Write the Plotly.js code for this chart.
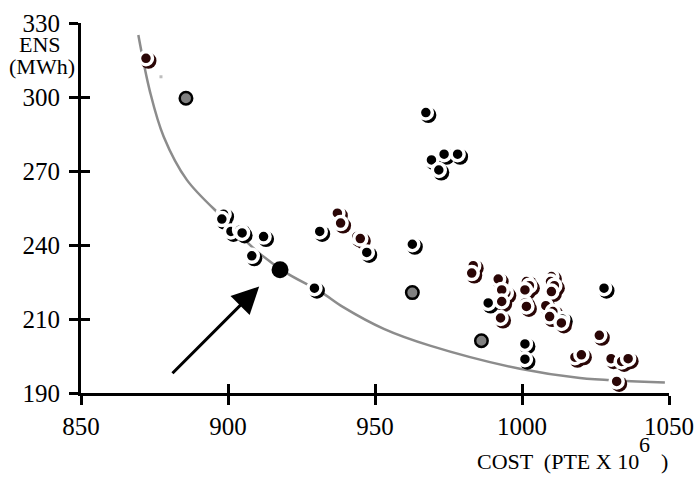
<!DOCTYPE html>
<html>
<head>
<meta charset="utf-8">
<script src="https://cdn.plot.ly/plotly-3.0.1.min.js"></script>
<style>
html,body{margin:0;padding:0;background:#fff;}
#chart{width:700px;height:482px;}
#chart svg text{font-family:"Liberation Serif","Times New Roman","DejaVu Serif",serif !important;}
</style>
</head>
<body>
<div id="chart"></div>
<script>
// ---- data ----
const blackX = [967.3, 969.2, 973.5, 978.1, 971.7, 931.2, 912.1, 962.7, 947.2, 898.5, 897.9, 901.0, 904.1, 904.8, 908.1, 929.4, 988.5, 1013.7, 1027.9, 1001.0, 1001.0];
const blackY = [293.7, 274.5, 276.8, 276.8, 270.4, 245.5, 243.4, 240.3, 237.0, 252.5, 250.5, 245.5, 246.1, 244.9, 235.6, 222.5, 216.5, 210.0, 222.5, 199.9, 193.7];

const brownX = [872.1, 937.2, 938.3, 943.8, 945.0, 983.4, 982.9, 991.9, 994.5, 993.1, 993.1, 992.7, 1001.5, 1002.5, 1001.0, 1001.0, 1001.5, 1010.0, 1009.7, 1011.0, 1010.0, 1008.1, 1010.5, 1009.4, 1013.4, 1026.3, 1018.0, 1020.2, 1030.3, 1033.9, 1036.1, 1032.2];
const brownY = [315.7, 252.9, 248.9, 243.4, 242.6, 231.6, 228.6, 226.2, 220.5, 221.8, 217.1, 210.4, 225.2, 223.5, 221.8, 216.5, 215.1, 227.2, 225.2, 223.5, 221.1, 215.4, 213.0, 211.0, 208.4, 203.4, 194.5, 195.5, 193.9, 192.8, 193.9, 184.7];

const grayX = [885.7, 962.7, 986.2];
const grayY = [299.5, 220.7, 201.2];

const bigX = [917.7];
const bigY = [230.0];

const specX = [877.2];
const specY = [308.2];

const curveX = [869.5, 873.5, 878.1, 886.0, 899.0, 909.8, 920.0, 931.3, 939.2, 953.0, 968.7, 999.3, 1019.7, 1048.6];
const curveY = [325.1, 302.0, 284.0, 266.4, 250.2, 237.5, 228.6, 221.2, 214.8, 206.0, 199.2, 189.8, 186.1, 184.3];

const xTicks = [850, 900, 950, 1000, 1050];
const yTicks = [180, 210, 240, 270, 300, 330];
const yTickText = ['190', '210', '240', '270', '300', '330'];

// ---- layout geometry ----
const W = 700, H = 482;
const M = {l: 81, r: 31, t: 23, b: 89};
const xRange = [850, 1050], yRange = [180, 330];
const pxX = (xRange[1] - xRange[0]) / (W - M.l - M.r);
const pxY = (yRange[1] - yRange[0]) / (H - M.t - M.b);
const SH = 2.5; // shadow offset in px
const shift = (arr, d) => arr.map(v => v + d);

const FONT = 'Liberation Serif';
const DARK = '#2a0606';

const traces = [
  {x: curveX, y: curveY, mode: 'lines', line: {color: '#8c8c8c', width: 2.5, shape: 'spline', smoothing: 1}, hoverinfo: 'skip'},
  // shadows
  {x: shift(blackX, SH * pxX), y: shift(blackY, -SH * pxY), mode: 'markers', marker: {size: 16, color: '#000'}},
  {x: shift(brownX, SH * pxX), y: shift(brownY, -SH * pxY), mode: 'markers', marker: {size: 16, color: DARK}},
  // ringed markers
  {x: blackX, y: blackY, mode: 'markers', marker: {size: 13, color: '#000', line: {color: '#fff', width: 3.5}}},
  {x: brownX, y: brownY, mode: 'markers', marker: {size: 13, color: DARK, line: {color: '#fff', width: 3.5}}},
  // gray points
  {x: grayX, y: grayY, mode: 'markers', marker: {size: 12.5, color: '#808080', line: {color: '#000', width: 2.5}}},
  // solid large point
  {x: bigX, y: bigY, mode: 'markers', marker: {size: 17, color: '#000'}},
  // tiny speck
  {x: specX, y: specY, mode: 'markers', marker: {size: 3, symbol: 'square', color: '#bdbdbd'}},
  // dummy trace for the overlay axes
  {x: [xRange[0]], y: [yRange[0]], xaxis: 'x2', yaxis: 'y2', mode: 'markers', marker: {opacity: 0}, hoverinfo: 'skip'}
];

const axBase = {
  showgrid: false, zeroline: false, showline: true, linecolor: '#000', linewidth: 3,
  ticks: 'outside', ticklen: 9, tickwidth: 3, tickcolor: '#000',
  tickfont: {family: FONT, size: 25, color: '#000'}
};

const layout = {
  width: W, height: H,
  margin: M,
  font: {family: FONT, color: '#000'},
  paper_bgcolor: '#fff', plot_bgcolor: '#fff',
  showlegend: false,
  xaxis: Object.assign({}, axBase, {range: xRange, tickmode: 'array', tickvals: xTicks, ticktext: xTicks.map(String)}),
  yaxis: Object.assign({}, axBase, {range: yRange, tickmode: 'array', tickvals: yTicks, ticktext: yTickText, ticklabelstandoff: 4}),
  xaxis2: {overlaying: 'x', range: xRange, side: 'bottom', showgrid: false, zeroline: false, showline: false,
    ticks: 'inside', ticklen: 9, tickwidth: 3, tickcolor: '#000', showticklabels: false, tickmode: 'array', tickvals: xTicks},
  yaxis2: {overlaying: 'y', range: yRange, side: 'left', showgrid: false, zeroline: false, showline: false,
    ticks: 'inside', ticklen: 9, tickwidth: 3, tickcolor: '#000', showticklabels: false, tickmode: 'array', tickvals: yTicks},
  annotations: [
    {xref: 'paper', yref: 'paper', x: -0.069, y: 0.943, text: 'ENS', showarrow: false, xanchor: 'center', yanchor: 'middle', font: {family: FONT, size: 22, color: '#000'}},
    {xref: 'paper', yref: 'paper', x: -0.066, y: 0.882, text: '(MWh)', showarrow: false, xanchor: 'center', yanchor: 'middle', font: {family: FONT, size: 22, color: '#000'}},
    {xref: 'paper', yref: 'paper', x: 0.67, y: -0.186, text: 'COST  (PTE X 10', showarrow: false, xanchor: 'left', yanchor: 'middle', font: {family: FONT, size: 22, color: '#000'}},
    {xref: 'paper', yref: 'paper', x: 0.9588, y: -0.138, text: '6', showarrow: false, xanchor: 'center', yanchor: 'middle', font: {family: FONT, size: 22, color: '#000'}},
    {xref: 'paper', yref: 'paper', x: 0.9927, y: -0.186, text: ')', showarrow: false, xanchor: 'center', yanchor: 'middle', font: {family: FONT, size: 22, color: '#000'}},
    {xref: 'x', yref: 'y', x: 910.6, y: 223.2, axref: 'x', ayref: 'y', ax: 880.6, ay: 187.4, text: '', showarrow: true,
      arrowhead: 2, arrowsize: 1.8, arrowwidth: 3, arrowcolor: '#000'}
  ]
};

Plotly.newPlot('chart', traces, layout, {displayModeBar: false, staticPlot: true});
</script>
</body>
</html>
